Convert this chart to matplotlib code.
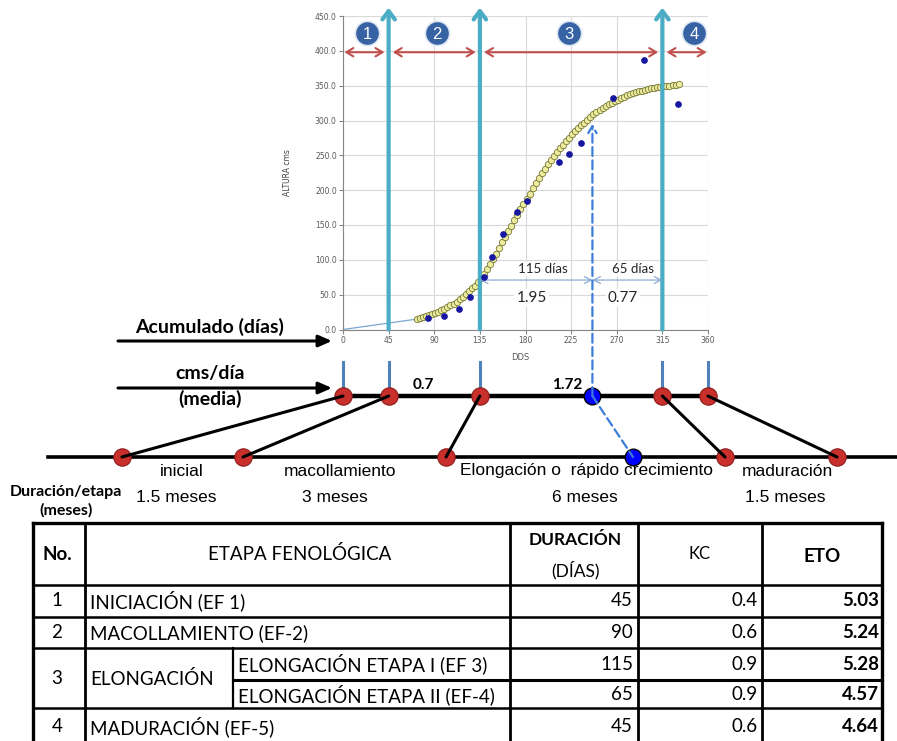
import matplotlib.pyplot as plt
from matplotlib.patches import ConnectionPatch
from matplotlib.transforms import blended_transform_factory

# ---- data ---------------------------------------------------------------
curve_dds = [73, 76, 79, 82, 85, 88, 91, 94, 97, 100, 103, 106, 109, 112, 115,
             118, 121, 124, 127, 130, 133, 136, 139, 142, 145, 148, 151, 154,
             157, 160, 163, 166, 169, 172, 175, 178, 181, 184, 187, 190, 193,
             196, 199, 202, 205, 208, 211, 214, 217, 220, 223, 226, 229, 232,
             235, 238, 241, 244, 247, 250, 253, 256, 259, 262, 265, 268, 271,
             274, 277, 280, 283, 286, 289, 292, 295, 298, 301, 304, 307, 310,
             313, 316, 319, 322, 325, 328, 331]
curve_h = [15, 16, 17.5, 19, 20.5, 22, 23.5, 25.5, 27.5, 30, 32, 34.5, 37, 40,
           43.5, 47, 51, 55, 59, 63, 68, 74, 80, 87, 94, 101, 109, 117, 125,
           133, 141, 149, 157, 165, 173, 180, 188, 195, 203, 210, 217, 224,
           231, 237, 243, 249, 255, 260, 265, 270, 275, 280, 285, 289, 293,
           297, 301, 305, 309, 312, 315, 318, 321, 323, 325, 328, 330, 332,
           334, 336, 337.5, 339, 340.5, 342, 343, 344, 345, 346, 347, 348,
           348.5, 349, 349.5, 350, 351, 351.5, 352]

obs_dds = [84, 100, 114, 125, 139, 147, 158, 172, 181, 213, 223, 235, 266, 297, 330]
obs_h = [16, 19, 30, 46, 76, 104, 137, 169, 185, 240, 252, 268, 333, 387, 324]

stage_dds = [0, 45, 135, 315, 360]
stage_ids = ['1', '2', '3', '4']
peak_dds = 246
span_days = ['115 días', '65 días']
span_rate = ['1.95', '0.77']
mean_rate = ['0.7', '1.72']

stage_names = ['inicial', 'macollamiento', 'Elongación o  rápido crecimiento', 'maduración']
stage_months = ['1.5 meses', '3 meses', '6 meses', '1.5 meses']

tab_no = ['1', '2', '3', '4']
tab_stage = ['INICIACIÓN (EF 1)', 'MACOLLAMIENTO (EF-2)', 'ELONGACIÓN', 'MADURACIÓN (EF-5)']
tab_sub = ['ELONGACIÓN ETAPA I (EF 3)', 'ELONGACIÓN ETAPA II (EF-4)']
tab_dur = [45, 90, 115, 65, 45]
tab_kc = [0.4, 0.6, 0.9, 0.9, 0.6]
tab_eto = [5.03, 5.24, 5.28, 4.57, 4.64]

# ---- layout -------------------------------------------------------------
W, H = 897, 741
CAL = 'Lato'
ARIAL = 'Liberation Sans'

fig = plt.figure(figsize=(W / 100, H / 100), dpi=100)
ov = fig.add_axes([0, 0, 1, 1])
ov.set_xlim(0, W)
ov.set_ylim(H, 0)
ov.axis('off')

ax = fig.add_axes([343 / W, 1 - 329.5 / H, 365 / W, 313.5 / H])
ax.set_xlim(0, 360)
ax.set_ylim(0, 450)
ax.set_xticks(range(0, 361, 45))
ax.set_yticks(range(0, 451, 50))
ax.set_yticklabels([f'{v:.1f}' for v in range(0, 451, 50)])
ax.tick_params(labelsize=5.5, labelcolor='#595959', color='#868686',
               length=3, width=0.8, pad=1.5)
ax.grid(color='#d9d9d9', lw=0.8)
ax.set_axisbelow(True)
for s in ['top', 'right']:
    ax.spines[s].set_visible(False)
for s in ['left', 'bottom']:
    ax.spines[s].set_color('#868686')
ax.set_ylabel('ALTURA cms', fontsize=5.5, color='#404040')
ax.yaxis.set_label_coords(-0.14, 0.5)
ax.set_xlabel('DDS', fontsize=6, color='#595959')
ax.xaxis.set_label_coords(0.485, -0.075)

# curve and observations
ax.plot([0, curve_dds[0]], [0, curve_h[0]], color='#7ba7cf', lw=0.9, zorder=2)
ax.plot(curve_dds, curve_h, 'o', ms=4.6, mfc='#ecec9c', mec='#77773a', mew=0.6, zorder=3)
ax.plot(obs_dds, obs_h, 'o', ms=3.8, color='#1616a0', zorder=4, clip_on=False)

# stage boundaries (cyan arrows)
for x in stage_dds[1:4]:
    ax.annotate('', xy=(x, 462), xytext=(x, 0), annotation_clip=False,
                arrowprops=dict(arrowstyle='->,head_length=0.6,head_width=0.45',
                                color='#4bacc6', lw=3, shrinkA=0, shrinkB=0))

# red span arrows and numbers
for i in range(4):
    a, b = stage_dds[i], stage_dds[i + 1]
    ax.annotate('', xy=(b, 398), xytext=(a, 398), annotation_clip=False,
                arrowprops=dict(arrowstyle='<->,head_length=0.5,head_width=0.3',
                                color='#c0504d', lw=1.5,
                                shrinkA=1 if i == 0 else 3, shrinkB=1 if i == 3 else 3))
num_x = [24, 93, 223, 346]
for n, x in zip(stage_ids, num_x):
    ax.plot(x, 425, 'o', ms=17.5, mfc='#3763a5', mec='#dfe7f3', mew=1.2, clip_on=False, zorder=5)
    ax.text(x, 424, n, color='white', fontsize=12, ha='center', va='center',
            family=ARIAL, zorder=6)

# peak dimension arrows
dim = [stage_dds[2], peak_dds, stage_dds[3]]
for i in range(2):
    ax.annotate('', xy=(dim[i + 1], 71), xytext=(dim[i], 71),
                arrowprops=dict(arrowstyle='<->,head_length=0.5,head_width=0.25',
                                color='#7fa3cf', lw=0.8, shrinkA=0, shrinkB=0))
lab_x = [197, 286]
num_lx = [186, 276]
for i in range(2):
    ax.text(lab_x[i], 87, span_days[i], fontsize=9.5, family=CAL, ha='center', va='center',
            color='#262626', bbox=dict(fc='white', ec='none', pad=0.5))
    ax.text(num_lx[i], 45, span_rate[i], fontsize=11, family=CAL, ha='center', va='center',
            color='#262626', bbox=dict(fc='white', ec='none', pad=1.5))

# ---- timelines ----------------------------------------------------------
bt = blended_transform_factory(ax.transData, ov.transData)
Y_UP, Y_LO = 396, 457
lower_x = [122, 243, 446, 725, 837]
lower_peak_x = 633

ov.plot([48, W], [Y_LO, Y_LO], color='black', lw=2.6, zorder=2)
for xu, xl in zip(stage_dds, lower_x):
    ov.plot([xu, xu], [362, 390], color='#4f81bd', lw=2.2, transform=bt)
    ov.plot([xl], [Y_LO], 'o', ms=12.5, mfc='#c9302c', mec='#8c1c1c', mew=0.8, zorder=5)
    con = ConnectionPatch(xyA=(xu, Y_UP), coordsA=bt, xyB=(xl, Y_LO), coordsB=ov.transData,
                          color='black', lw=2.2, zorder=3)
    fig.add_artist(con)
ov.plot(stage_dds, [Y_UP] * 5, color='black', lw=3.2, transform=bt, zorder=3)
ov.plot(stage_dds, [Y_UP] * 5, 'o', ms=12.5, mfc='#c9302c', mec='#8c1c1c', mew=0.8,
        transform=bt, zorder=5)

# peak markers and dashed links
fig.add_artist(ConnectionPatch(xyA=(peak_dds, Y_UP), coordsA=bt, xyB=(peak_dds, 295),
                               coordsB=ax.transData, color='#3c7dd9', lw=1.6, ls=(0, (4, 2)),
                               arrowstyle='->,head_length=0.5,head_width=0.3', zorder=4))
fig.add_artist(ConnectionPatch(xyA=(peak_dds, Y_UP), coordsA=bt, xyB=(lower_peak_x, Y_LO),
                               coordsB=ov.transData, color='#3c7dd9', lw=1.6,
                               ls=(0, (4, 2)), zorder=4))
ov.plot([peak_dds], [Y_UP], 'o', ms=12, mfc='#0000ff', mec='black', mew=1, transform=bt, zorder=6)
ov.plot([lower_peak_x], [Y_LO], 'o', ms=12, mfc='#0000ff', mec='black', mew=1, zorder=6)

# rates on upper line
ov.text(423, 385, mean_rate[0], fontsize=11, weight='bold', family=CAL, ha='center', va='center')
ov.text(567, 385, mean_rate[1], fontsize=11, weight='bold', family=CAL, ha='center', va='center')

# left captions and arrows
ov.text(210, 327, 'Acumulado (días)', fontsize=14, weight='bold', family=CAL, ha='center', va='center')
ov.text(210, 373, 'cms/día', fontsize=14, weight='bold', family=CAL, ha='center', va='center')
ov.text(210, 399, '(media)', fontsize=14, weight='bold', family=CAL, ha='center', va='center')
for y in [341, 388]:
    ov.annotate('', xy=(332, y), xytext=(118, y),
                arrowprops=dict(arrowstyle='-|>,head_length=0.8,head_width=0.35',
                                color='black', lw=2.2, shrinkA=0, shrinkB=0))
ov.text(66, 492, 'Duración/etapa', fontsize=11.5, weight='bold', family=CAL, ha='center', va='center')
ov.text(66, 510, '(meses)', fontsize=11.5, weight='bold', family=CAL, ha='center', va='center')

name_x = [182, 340, 587, 787]
month_x = [176, 335, 585, 785]
for i in range(4):
    ov.text(name_x[i], 471, stage_names[i], fontsize=12.5, family=ARIAL, ha='center', va='center')
    ov.text(month_x[i], 498, stage_months[i], fontsize=12.5, family=ARIAL, ha='center', va='center')

# ---- table --------------------------------------------------------------
L, R = 33, 882
cx = [85, 510, 638, 762]
ry = [523, 585, 617, 648, 680, 708]
bottom = 745
ov.plot([L, R], [ry[0], ry[0]], color='black', lw=2.4)
ov.plot([L, L], [ry[0], bottom], color='black', lw=2.4)
ov.plot([R, R], [ry[0], bottom], color='black', lw=2.4)
for x in cx:
    ov.plot([x, x], [ry[0], bottom], color='black', lw=2.0)
ov.plot([233, 233], [ry[3], ry[5]], color='black', lw=1.6)
for y in [ry[1], ry[2], ry[3], ry[5]]:
    ov.plot([L, R], [y, y], color='black', lw=1.8)
ov.plot([233, R], [ry[4], ry[4]], color='black', lw=2.2)

FS = 13.5
tk = dict(family=CAL, va='center', color='black')
ov.text(57, 554, 'No.', fontsize=FS, weight='bold', ha='center', **tk)
ov.text(300, 554, 'ETAPA FENOLÓGICA', fontsize=FS, ha='center', **tk)
ov.text(575, 540, 'DURACIÓN', fontsize=12.5, weight='bold', ha='center', **tk)
ov.text(575, 570, '(DÍAS)', fontsize=12.5, ha='center', **tk)
ov.text(700, 554, 'KC', fontsize=12, ha='center', **tk)
ov.text(822, 556, 'ETO', fontsize=FS, weight='bold', ha='center', **tk)

row_y = [601, 633, 664, 695, 727]
no_y = [601, 633, 679, 727]
for i in range(4):
    ov.text(57, no_y[i], tab_no[i], fontsize=FS, ha='center', **tk)
    ov.text(90, no_y[i], tab_stage[i], fontsize=FS, ha='left', **tk)
for i in range(2):
    ov.text(238, row_y[2 + i], tab_sub[i], fontsize=FS, ha='left', **tk)
for i in range(5):
    ov.text(633, row_y[i], f'{tab_dur[i]}', fontsize=FS, ha='right', **tk)
    ov.text(758, row_y[i], f'{tab_kc[i]:.1f}', fontsize=FS, ha='right', **tk)
    ov.text(879, row_y[i], f'{tab_eto[i]:.2f}', fontsize=FS, weight='bold', ha='right', **tk)

fig.savefig('out.png', dpi=100, facecolor='white')
